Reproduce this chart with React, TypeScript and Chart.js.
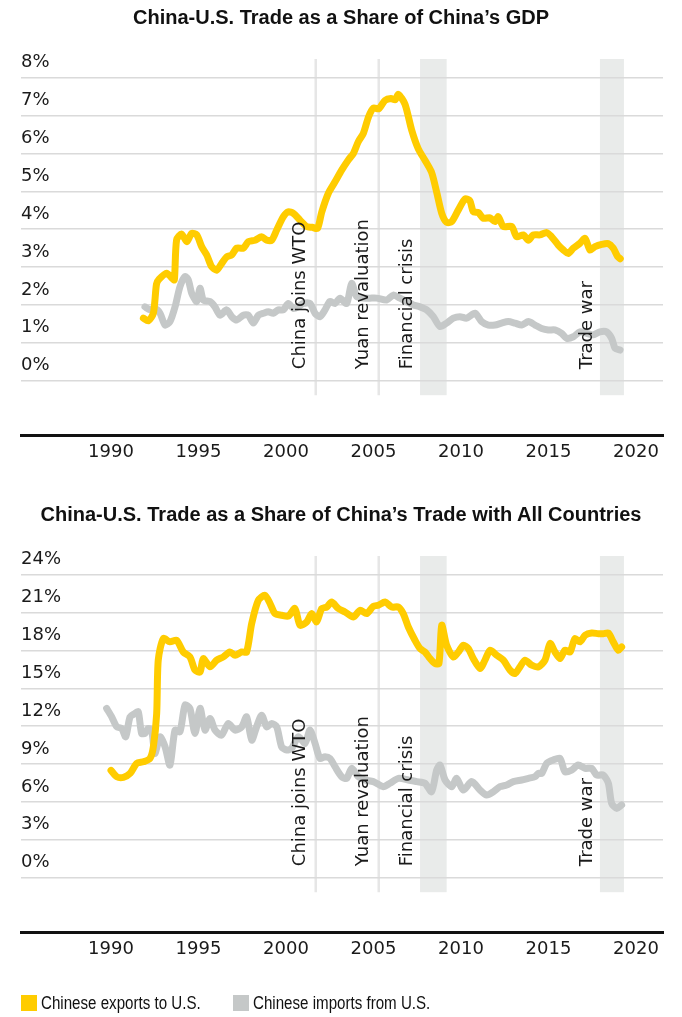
import React, { useEffect, useRef } from "react";
import { Chart, registerables } from "chart.js";

Chart.register(...registerables);

// ---------- data ----------
const yearTicks = [1990, 1995, 2000, 2005, 2010, 2015, 2020];
const gdpTicks = [0, 1, 2, 3, 4, 5, 6, 7, 8];
const tradeTicks = [0, 3, 6, 9, 12, 15, 18, 21, 24];

const gdpExportYears = [1991.85, 1992.13, 1992.42, 1992.6, 1992.75, 1993.18, 1993.5, 1993.62, 1993.75, 1994.04, 1994.33, 1994.61, 1994.9, 1995.18, 1995.47, 1995.75, 1996.04, 1996.33, 1996.61, 1996.9, 1997.18, 1997.56, 1997.85, 1998.23, 1998.61, 1998.9, 1999.18, 1999.47, 1999.85, 2000.13, 2000.42, 2000.8, 2001.18, 2001.5, 2001.8, 2002.04, 2002.42, 2002.8, 2003.18, 2003.56, 2003.85, 2004.13, 2004.42, 2004.72, 2005.0, 2005.3, 2005.66, 2006.0, 2006.25, 2006.42, 2006.8, 2007.18, 2007.56, 2007.94, 2008.32, 2008.61, 2008.9, 2009.18, 2009.47, 2009.85, 2010.23, 2010.51, 2010.7, 2010.99, 2011.27, 2011.66, 2011.94, 2012.13, 2012.42, 2012.9, 2013.18, 2013.56, 2013.85, 2014.13, 2014.51, 2014.9, 2015.18, 2015.56, 2015.85, 2016.13, 2016.42, 2016.8, 2017.09, 2017.37, 2017.66, 2018.04, 2018.41, 2018.7, 2018.95, 2019.1];
const gdpExportValues = [1.65, 1.58, 1.78, 2.55, 2.68, 2.84, 2.7, 2.66, 3.72, 3.87, 3.67, 3.89, 3.85, 3.54, 3.32, 3.01, 2.92, 3.1, 3.27, 3.32, 3.5, 3.5, 3.67, 3.71, 3.8, 3.71, 3.71, 3.98, 4.33, 4.46, 4.42, 4.24, 4.07, 4.05, 4.02, 4.45, 4.95, 5.25, 5.56, 5.83, 6.0, 6.31, 6.53, 6.97, 7.2, 7.18, 7.4, 7.45, 7.42, 7.56, 7.3, 6.62, 6.12, 5.82, 5.5, 4.98, 4.42, 4.18, 4.2, 4.51, 4.8, 4.75, 4.46, 4.44, 4.29, 4.3, 4.2, 4.33, 4.07, 4.07, 3.8, 3.85, 3.71, 3.85, 3.85, 3.91, 3.8, 3.58, 3.45, 3.36, 3.5, 3.63, 3.76, 3.45, 3.54, 3.6, 3.62, 3.5, 3.28, 3.22];

const gdpImportYears = [1991.94, 1992.23, 1992.51, 1992.8, 1993.09, 1993.37, 1993.66, 1993.94, 1994.23, 1994.42, 1994.61, 1994.9, 1995.09, 1995.28, 1995.66, 1995.94, 1996.23, 1996.61, 1996.9, 1997.18, 1997.56, 1997.85, 1998.13, 1998.42, 1998.7, 1998.99, 1999.27, 1999.56, 1999.85, 2000.13, 2000.42, 2000.7, 2000.99, 2001.37, 2001.66, 2001.94, 2002.23, 2002.51, 2002.8, 2003.09, 2003.47, 2003.75, 2004.04, 2004.42, 2004.8, 2005.18, 2005.75, 2006.13, 2006.51, 2006.9, 2007.27, 2007.66, 2008.04, 2008.42, 2008.8, 2009.18, 2009.56, 2009.94, 2010.32, 2010.8, 2011.18, 2011.56, 2011.94, 2012.32, 2012.7, 2013.09, 2013.47, 2013.85, 2014.23, 2014.61, 2014.99, 2015.37, 2015.75, 2016.04, 2016.42, 2016.8, 2017.18, 2017.56, 2017.94, 2018.32, 2018.61, 2018.8, 2019.09];
const gdpImportValues = [1.95, 1.87, 1.91, 1.78, 1.47, 1.56, 1.95, 2.48, 2.75, 2.66, 2.31, 2.09, 2.44, 2.13, 2.09, 1.95, 1.73, 1.87, 1.69, 1.6, 1.73, 1.73, 1.52, 1.73, 1.78, 1.82, 1.78, 1.87, 1.87, 2.04, 1.91, 1.95, 2.04, 2.04, 1.78, 1.69, 1.87, 2.09, 2.04, 2.18, 2.04, 2.57, 2.22, 2.18, 2.18, 2.18, 2.13, 2.26, 2.18, 2.09, 2.0, 1.95, 1.87, 1.69, 1.43, 1.52, 1.65, 1.69, 1.65, 1.78, 1.56, 1.47, 1.47, 1.52, 1.56, 1.52, 1.47, 1.56, 1.47, 1.38, 1.34, 1.34, 1.25, 1.12, 1.16, 1.29, 1.25, 1.21, 1.29, 1.29, 1.12, 0.86, 0.81];

const tradeExportYears = [1990.0, 1990.33, 1990.71, 1991.09, 1991.47, 1991.85, 1992.23, 1992.42, 1992.61, 1992.7, 1992.99, 1993.37, 1993.75, 1994.13, 1994.51, 1994.8, 1995.09, 1995.27, 1995.66, 1996.04, 1996.42, 1996.8, 1997.09, 1997.47, 1997.75, 1998.04, 1998.42, 1998.8, 1999.09, 1999.37, 1999.75, 2000.13, 2000.51, 2000.8, 2001.18, 2001.47, 2001.75, 2002.04, 2002.33, 2002.61, 2002.99, 2003.37, 2003.85, 2004.23, 2004.61, 2004.99, 2005.28, 2005.66, 2006.04, 2006.42, 2006.7, 2006.99, 2007.37, 2007.66, 2007.94, 2008.23, 2008.51, 2008.74, 2008.9, 2009.18, 2009.56, 2009.85, 2010.13, 2010.42, 2010.7, 2011.09, 2011.37, 2011.66, 2012.04, 2012.42, 2012.8, 2013.09, 2013.37, 2013.66, 2014.04, 2014.42, 2014.8, 2015.09, 2015.37, 2015.66, 2015.94, 2016.23, 2016.51, 2016.8, 2017.09, 2017.47, 2017.85, 2018.13, 2018.42, 2018.7, 2018.99, 2019.18];
const tradeExportValues = [8.5, 8.0, 7.95, 8.26, 9.06, 9.18, 9.45, 10.37, 13.0, 17.23, 18.94, 18.68, 18.81, 17.88, 17.49, 16.44, 16.3, 17.36, 16.7, 17.23, 17.49, 17.88, 17.62, 17.88, 17.88, 20.13, 21.97, 22.37, 21.71, 20.92, 20.79, 20.71, 21.32, 20.0, 20.26, 20.92, 20.26, 21.32, 21.44, 21.84, 21.32, 21.05, 20.65, 21.18, 20.92, 21.5, 21.58, 21.84, 21.44, 21.44, 20.92, 19.86, 18.81, 18.15, 17.88, 17.36, 16.97, 16.97, 20.0, 18.41, 17.49, 17.88, 18.41, 18.15, 17.36, 16.57, 17.23, 18.02, 17.62, 17.23, 16.44, 16.17, 16.7, 17.23, 16.83, 16.7, 17.23, 18.55, 17.88, 17.36, 18.02, 17.88, 18.94, 18.68, 19.2, 19.38, 19.33, 19.33, 19.38, 18.68, 18.02, 18.28];

const tradeImportYears = [1989.75, 1990.04, 1990.33, 1990.61, 1990.84, 1991.09, 1991.37, 1991.56, 1991.75, 1991.94, 1992.13, 1992.32, 1992.51, 1992.8, 1993.09, 1993.37, 1993.66, 1993.94, 1994.23, 1994.51, 1994.8, 1995.09, 1995.37, 1995.66, 1995.94, 1996.32, 1996.7, 1997.09, 1997.47, 1997.75, 1998.04, 1998.32, 1998.61, 1998.9, 1999.18, 1999.47, 1999.75, 2000.04, 2000.32, 2000.7, 2001.09, 2001.37, 2001.66, 2001.94, 2002.23, 2002.51, 2002.8, 2003.18, 2003.47, 2003.75, 2004.13, 2004.51, 2004.99, 2005.56, 2005.94, 2006.42, 2006.99, 2007.47, 2007.94, 2008.32, 2008.61, 2008.8, 2009.09, 2009.47, 2009.75, 2010.13, 2010.61, 2011.09, 2011.47, 2011.85, 2012.23, 2012.61, 2012.99, 2013.47, 2013.85, 2014.23, 2014.42, 2014.61, 2014.9, 2015.27, 2015.66, 2015.94, 2016.32, 2016.7, 2017.09, 2017.47, 2017.75, 2018.13, 2018.42, 2018.61, 2018.9, 2019.18];
const tradeImportValues = [13.41, 12.74, 11.95, 11.82, 11.16, 12.74, 13.01, 13.14, 11.43, 11.43, 11.82, 11.69, 9.85, 11.16, 10.37, 8.92, 11.69, 11.56, 13.67, 13.41, 11.43, 13.41, 11.69, 12.61, 11.69, 11.29, 12.22, 11.69, 11.95, 12.74, 10.9, 11.95, 12.87, 11.95, 12.22, 11.95, 10.37, 10.11, 10.24, 11.16, 10.64, 11.69, 10.64, 9.45, 9.58, 9.45, 8.79, 8.0, 7.87, 8.66, 8.0, 7.74, 7.61, 7.21, 7.48, 7.87, 7.74, 7.61, 7.48, 6.81, 8.53, 8.92, 7.74, 7.21, 7.87, 6.94, 7.61, 6.94, 6.55, 6.81, 7.21, 7.34, 7.61, 7.74, 7.87, 8.0, 8.26, 8.26, 9.06, 9.32, 9.45, 8.39, 8.53, 8.92, 8.66, 8.66, 8.13, 8.13, 7.48, 5.89, 5.49, 5.76];

const eventLineLabels = ["China joins WTO", "Yuan revaluation"];
const eventLineYears = [2001.7, 2005.3];
const eventBandLabels = ["Financial crisis", "Trade war"];
const eventBandStarts = [2007.66, 2017.94];
const eventBandEnds = [2009.18, 2019.31];

const seriesLabels = ["Chinese exports to U.S.", "Chinese imports from U.S."];

// ---------- styles ----------
const YELLOW = "rgb(255,204,0)";
const GRAY = "rgb(197,200,200)";
const SHADE = "rgb(233,235,234)";
const EVENT_LINE = "rgb(230,230,230)";
const GRID = "rgb(218,218,218)";
const TEXT = "#1a1a1a";
const AXIS_FONT = '"DejaVu Sans", Verdana, sans-serif';
const TITLE_FONT = '"Liberation Sans Narrow", "Liberation Sans", Arial, sans-serif';

const eventsPlugin = {
  id: "events",
  beforeDraw(chart: any) {
    const ctx = chart.ctx;
    ctx.letterSpacing = "0px";
    const x = chart.scales.x;
    const y = chart.scales.y;
    const top = chart.chartArea.top;
    const bottom = y.getPixelForValue(0) + 14.5;
    ctx.save();
    ctx.fillStyle = SHADE;
    for (let i = 0; i < eventBandStarts.length; i++) {
      const x0 = x.getPixelForValue(eventBandStarts[i]);
      const x1 = x.getPixelForValue(eventBandEnds[i]);
      ctx.fillRect(x0, top, x1 - x0, bottom - top);
    }
    ctx.strokeStyle = EVENT_LINE;
    ctx.lineWidth = 2.5;
    for (let i = 0; i < eventLineYears.length; i++) {
      const px = x.getPixelForValue(eventLineYears[i]);
      ctx.beginPath();
      ctx.moveTo(px, top);
      ctx.lineTo(px, bottom);
      ctx.stroke();
    }
    ctx.restore();
  },
  afterDatasetsDraw(chart: any) {
    const ctx = chart.ctx;
    const x = chart.scales.x;
    const y = chart.scales.y;
    const yStart = y.getPixelForValue(0) - 11.5;
    ctx.save();
    ctx.fillStyle = TEXT;
    ctx.font = `18px ${AXIS_FONT}`;
    ctx.textAlign = "left";
    ctx.textBaseline = "alphabetic";
    const draw = (label: string, px: number) => {
      ctx.save();
      ctx.translate(px, yStart);
      ctx.rotate(-Math.PI / 2);
      ctx.fillText(label, 0, 0);
      ctx.restore();
    };
    for (let i = 0; i < eventLineYears.length; i++) {
      draw(eventLineLabels[i], x.getPixelForValue(eventLineYears[i]) - 10.5);
    }
    for (let i = 0; i < eventBandStarts.length; i++) {
      draw(eventBandLabels[i], x.getPixelForValue(eventBandStarts[i]) - 8);
    }
    ctx.restore();
    // letter spacing for the year labels drawn after this hook
    ctx.letterSpacing = "1.8px";
  },
  afterDraw(chart: any) {
    chart.ctx.letterSpacing = "0px";
  },
};

type Props = {
  exportYears: number[];
  exportValues: number[];
  importYears: number[];
  importValues: number[];
  ticks: number[];
  yMin: number;
  yMax: number;
};

function TradeChart(props: Props) {
  const ref = useRef<HTMLCanvasElement | null>(null);
  useEffect(() => {
    if (!ref.current) return;
    const toPts = (xs: number[], ys: number[]) => xs.map((v, i) => ({ x: v, y: ys[i] }));
    const chart = new Chart(ref.current, {
      type: "line",
      data: {
        datasets: [
          {
            label: seriesLabels[0],
            data: toPts(props.exportYears, props.exportValues),
            borderColor: YELLOW,
            borderWidth: 7,
            pointRadius: 0,
            tension: 0.25,
            borderCapStyle: "round",
            borderJoinStyle: "round",
            fill: false,
          },
          {
            label: seriesLabels[1],
            data: toPts(props.importYears, props.importValues),
            borderColor: GRAY,
            borderWidth: 7,
            pointRadius: 0,
            tension: 0.25,
            borderCapStyle: "round",
            borderJoinStyle: "round",
            fill: false,
          },
        ],
      },
      options: {
        responsive: false,
        animation: false,
        events: [],
        layout: { padding: { left: 21, right: 19, top: 59, bottom: 22 } },
        plugins: { legend: { display: false }, tooltip: { enabled: false }, title: { display: false } },
        scales: {
          x: {
            type: "linear",
            min: 1984.857,
            max: 2021.543,
            z: 1,
            grid: { display: false, drawTicks: false },
            border: { display: true, color: "#111", width: 3 },
            afterBuildTicks: (s: any) => {
              s.ticks = yearTicks.map((v) => ({ value: v }));
            },
            afterFit: (s: any) => {
              s.height = 40;
            },
            ticks: {
              color: TEXT,
              font: { family: AXIS_FONT, size: 18 },
              padding: 7,
              maxRotation: 0,
              autoSkip: false,
              callback: (v: any) => String(v),
            },
          },
          y: {
            type: "linear",
            min: props.yMin,
            max: props.yMax,
            grid: { color: GRID, lineWidth: 1.5, drawTicks: false },
            border: { display: false },
            afterBuildTicks: (s: any) => {
              s.ticks = props.ticks.map((v) => ({ value: v }));
            },
            afterFit: (s: any) => {
              s.width = 0;
            },
            ticks: {
              mirror: true,
              padding: 0,
              labelOffset: -15,
              color: TEXT,
              font: { family: AXIS_FONT, size: 18 },
              callback: (v: any) => `${v}%`,
            },
          },
        },
      },
      plugins: [eventsPlugin],
    } as any);
    return () => chart.destroy();
  }, []);
  return <canvas ref={ref} width={682} height={497} style={{ display: "block", width: 682, height: 497 }} />;
}

const titleStyle: React.CSSProperties = {
  position: "absolute",
  left: 0,
  width: 682,
  textAlign: "center",
  fontFamily: TITLE_FONT,
  fontWeight: 700,
  fontSize: 20,
  lineHeight: "20px",
  color: "#111",
};

const legendText: React.CSSProperties = {
  display: "inline-block",
  transform: "scaleX(0.84)",
  transformOrigin: "left center",
  whiteSpace: "nowrap",
};

export default function App() {
  return (
    <div style={{ position: "absolute", top: 0, left: 0, width: 682, height: 1017, background: "#fff", overflow: "hidden" }}>
      <div style={{ position: "absolute", top: 0, left: 0 }}>
        <TradeChart
          exportYears={gdpExportYears}
          exportValues={gdpExportValues}
          importYears={gdpImportYears}
          importValues={gdpImportValues}
          ticks={gdpTicks}
          yMin={-1.434}
          yMax={8.494}
        />
      </div>
      <div style={{ position: "absolute", top: 497, left: 0 }}>
        <TradeChart
          exportYears={tradeExportYears}
          exportValues={tradeExportValues}
          importYears={tradeImportYears}
          importValues={tradeImportValues}
          ticks={tradeTicks}
          yMin={-4.302}
          yMax={25.482}
        />
      </div>
      <div style={{ ...titleStyle, top: 7 }}>China-U.S. Trade as a Share of China’s GDP</div>
      <div style={{ ...titleStyle, top: 504 }}>China-U.S. Trade as a Share of China’s Trade with All Countries</div>
      <div
        style={{
          position: "absolute",
          top: 994,
          left: 21,
          display: "flex",
          alignItems: "center",
          fontFamily: TITLE_FONT,
          fontSize: 18,
          lineHeight: "18px",
          color: "#111",
        }}
      >
        <span style={{ display: "inline-block", width: 16, height: 16, background: YELLOW, marginRight: 4, flex: "none" }} />
        <span style={{ width: 192, flex: "none" }}>
          <span style={legendText}>{seriesLabels[0]}</span>
        </span>
        <span style={{ display: "inline-block", width: 16, height: 16, background: GRAY, marginRight: 4, flex: "none" }} />
        <span style={{ flex: "none" }}>
          <span style={legendText}>{seriesLabels[1]}</span>
        </span>
      </div>
    </div>
  );
}
